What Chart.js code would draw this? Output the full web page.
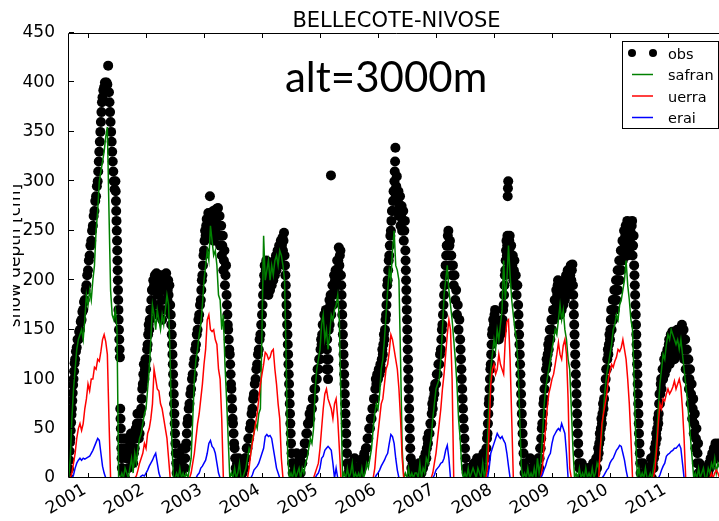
<!DOCTYPE html>
<html>
<head>
<meta charset="utf-8">
<script src="https://cdn.jsdelivr.net/npm/chart.js@4.4.1/dist/chart.umd.min.js"></script>
<style>
    html, body { margin: 0; padding: 0; background: #fff; overflow: hidden; }
    #wrap { width: 719px; height: 521px; overflow: hidden; }
</style>
</head>
<body>
<div id="wrap"><canvas id="chart" width="729" height="521"></canvas></div>
<script>
const title = 'BELLECOTE-NIVOSE';
const altitudeNote = 'alt=3000m';
const yTitle = 'snow depth [cm]';
const years = [2001, 2002, 2003, 2004, 2005, 2006, 2007, 2008, 2009, 2010, 2011];
const depthTicks = [0, 50, 100, 150, 200, 250, 300, 350, 400, 450];
const xMin = 2000.672;
const xMax = 2011.966;

// one row per snow season, 1 Sept -> 31 Aug, one window per ~10 days (36 per row)
const seasonStart = 2000 + 8 / 12;
const windowsPerYear = 36;

// obs: the readings that fall inside each 10-day window
const obsRows = [
    [[0,9,18,27,36],[40,48,56,64],[70,78,86,94],[100,108,116],[120,128],[132,140],
     [140,148],[150,158],[160,168],[170,178],[180,190],[195,205],
     [210,220],[225,235],[240,250],[255,265],[270,280],[285,295],
     [300,310,320],[330,340,350],[360,370,380],[385,392],[395,400],[392,400],
     [398,417],[390,380,370],[360,350,340],[330,320,310],[300,292],[300,290,280,270,260,250],
     [240,230,220,210,200,190,180,170],[160,150,140,130,122],[70,60,50,40,30,20],[10,25],[5,40,30],[0,20]],
    [[40,30,20],[10,20,30],[25,35,45],[40,30,20],[15,25],[30,40,50],
     [45,55,65],[50,40],[45,55,65],[70,80,90],[95,105,115],[100,110,120],
     [110,120,130],[135,145,155],[150,160,170],[170,180,190],[190,200],[195,205],
     [200,207],[165,175,185,195,205],[190,200],[195,205],[160,170,180,190,200],[195,205],
     [200,207],[170,180,190,200],[185,195],[175,165,155],[145,135,125,115,105],[95,85,75,65,55],
     [45,35,25,15],[5,15],[10,25],[15,5],[10,20,30],[20,10]],
    [[10,20,30],[35,45,55],[60,70],[75,85],[90,100],[105,115],
     [120,130],[135,145],[150,160],[165,175],[180,190,200],[205,215,225],
     [230,240,250],[245,255,262],[250,260,268],[255,265,285],[245,255,262],[250,260,270],
     [240,250,262],[250,260,272],[255,265,273],[245,255,265],[235,245,255],[225,235,245],
     [210,220,230],[195,205,215],[185,175,165,155],[150,140,130],[125,115,105,95],[90,80,70,60],
     [55,45,35],[30,20,10],[5,15],[10,20],[5],[0,10]],
    [[5,15],[10,20],[20,30],[30,40],[40,50],[55,65],
     [70,80],[85,95],[100,110],[115,125],[130,140],[145,155],
     [165,175,185],[195,205,215],[200,210,220],[190,200,210],[185,195,205],[190,200,210],
     [195,205,215],[200,210,220],[205,215,225],[210,220,230],[215,225,235],[220,230,240],
     [225,235,243],[230,240,248],[225,215,205,195],[185,175,165,155,145],[135,125,115,105,95],[85,75,65,55,45],
     [35,25,15],[5,15],[0,10],[10,25],[15],[5,20]],
    [[5,15],[15,25],[25,35],[35,45],[45,55],[55,65],
     [60,70],[70,80],[80,90],[90,100],[100,110],[110,120],
     [120,130,140],[135,145,155],[145,155,165],[150,160,170],[110,120,130,140,150,160,170],[100,110,120,150,160,170,180],
     [155,165,175,185,306],[165,175,185,195],[175,185,195,205],[190,200,210],[200,210,220],[210,220,233],
     [215,225,230],[205,195,185,175,165],[155,145,135,125,115],[105,95,85,75,65],[55,45,35,25],[15,5],
     [10],[0,15],[10],[5,20],[0],[10]],
    [[0,10],[5,15],[10,20],[15,25],[20,30],[30,40],
     [40,50],[50,60],[60,70],[70,80],[80,90,100],[95,105],
     [100,110],[105,115],[110,120,130],[125,135,145],[140,150,160],[165,175,185,195],
     [200,210,220],[225,235,245],[250,260,270],[270,280,290],[290,300,310,320,334],[285,295,305],
     [270,280,290],[265,275,285],[255,265,275],[250,260,270],[240,250,260],[230,220,210,200,190,180,170],
     [160,150,140,130,120,110,100],[90,80,70,60,50,40],[30,20,10],[5,15],[0,10],[5]],
    [[0,10],[5,15],[0,10],[5,15],[10,20],[15,25],
     [20,30,40],[35,45],[45,55],[55,65,75],[70,80,90],[85,95],
     [95,105],[105,115],[115,125],[130,140,150],[155,165,175],[185,195,205],
     [215,225,235],[235,245,250],[225,235,240],[215,225],[205,215],[195,205],
     [180,190],[165,175],[150,160],[140,130,120,110],[100,90,80,70],[60,50,40],
     [30,20,10],[5],[0,10],[10],[5],[0,15]],
    [[0,10],[5,20],[0,15],[5,20],[0,10],[5,25],
     [10,20],[20,30,40],[45,55,65,75],[80,90,100,110],[115,125,135,145],[150,160],
     [155,165,170],[150,160],[145,155],[140,150],[145,155],[150,160,170],
     [175,185,195,205],[210,220,230,240],[225,235,245,285,293,300],[220,230,240,245],[215,225,235],[205,215,225],
     [200,210,220],[195,205],[185,195],[175,165,155,145,135],[125,115,105,95,85],[75,65,55,45],
     [35,25,15],[5],[10],[0],[5,20],[10]],
    [[0,10],[5,15],[0,10],[5,20],[10,20,30],[30,40,50],
     [55,65,75],[80,90,100],[100,110,120],[115,125,135],[130,140,150],[140,150,160],
     [150,160,170],[160,170,180],[170,180,190],[175,185,195,200],[170,180,190,195],[165,175,185,190],
     [170,180,190,195],[175,185,195,200],[180,190,200,205],[185,195,205,210],[190,200,210],[195,205,215],
     [200,210,216],[195,185,175,165,155],[145,135,125,115,105],[95,85,75,65,55],[45,35,25,15],[10],
     [0,15],[10],[0],[5],[0,10],[5]],
    [[0,10],[5,15],[0,10],[5,20],[10,20,30],[25,35,45],
     [40,50,60],[55,65,75],[70,80,90],[90,100,110],[110,120,130],[125,135,145],
     [140,150,160,170],[150,160,170,180],[160,170,180,190],[170,180,190,200],[180,190,200,210],[190,200,210,220],
     [200,210,220,230],[210,220,230,240],[220,230,240,250],[225,235,245,255],[230,240,250,260],[225,235,245],
     [230,240,250],[235,245,255,260],[225,235,245],[215,205,195,185,175],[165,155,145,135,125,115],[105,95,85,75,65,55],
     [45,35,25,15],[5],[0,15],[5],[0],[10]],
    [[0,10],[5,20],[0,15],[10,20,30],[25,35,45],[40,50,60],
     [55,65,75,85],[75,85,95,100],[90,100,110],[100,110,120],[105,115,125],[110,120,130],
     [115,125,135,140],[115,125,135,145],[120,130,140,148],[120,130,140],[120,130,140,148],[125,135,145,150],
     [125,135,145,150],[130,140,150],[135,145,155],[130,140,150],[120,130,140],[110,120,130],
     [100,110,120],[90,100,110],[75,85,95],[60,70,80],[45,55,65],[30,40,50],
     [15,25,35],[5,15],[0,10],[5],[0,10],[5]],
    [[0,10],[5,15],[10,20],[15,25],[20,30],[25,35],[20,30],[25,35],[30]]
];

const safranRows = [
    [0,20,60,90,110,130,140,145,150,140,160,185,175,190,180,200,215,250,270,300,310,320,330,345,355,270,190,165,160,170,150,0,0,5,0,10],
    [5,0,10,20,5,25,15,30,40,45,55,65,70,90,110,140,175,165,150,170,160,150,165,155,170,185,175,120,40,0,0,5,0,10,0,5],
    [0,5,0,10,20,60,100,120,130,145,155,175,200,215,230,220,255,240,225,230,215,185,180,150,165,115,80,40,0,5,0,10,0,5,15,0],
    [0,5,10,20,30,25,40,45,55,50,65,70,150,245,200,210,220,200,215,205,220,225,215,230,225,215,200,120,20,0,5,0,10,0,5,10],
    [0,10,5,15,20,30,40,35,50,90,110,120,130,155,165,140,150,130,145,165,160,170,175,185,160,80,0,5,0,10,0,5,15,0,5,0],
    [5,0,10,0,5,15,10,20,30,50,65,75,70,85,110,120,140,165,190,210,200,230,250,215,210,200,120,30,0,5,0,10,0,5,0,5],
    [5,0,15,0,10,5,20,15,30,40,60,75,90,95,100,120,150,185,200,215,190,175,160,140,120,95,60,40,10,0,5,0,10,0,5,10],
    [5,0,10,5,0,15,0,10,40,80,110,125,140,130,150,140,155,170,220,180,200,235,205,180,165,150,140,110,60,10,0,5,0,10,0,5],
    [0,10,0,20,5,15,40,70,90,100,110,120,130,140,150,145,160,175,160,170,150,140,120,110,70,30,0,5,0,10,0,5,0,10,0,5],
    [0,10,0,5,15,10,25,45,70,90,105,115,125,135,150,155,165,160,175,180,190,200,220,195,180,160,150,100,40,0,10,0,5,0,10,0],
    [0,5,0,10,20,40,70,95,110,125,120,135,145,140,150,145,140,135,140,130,140,125,110,95,80,60,40,20,0,5,0,10,0,5,10,0],
    [0,10,5,15,10,20,5,15,10]
];

const uerraRows = [
    [0,0,5,15,25,40,50,55,48,55,70,80,95,88,100,100,112,110,120,118,128,140,145,138,125,60,0,0,0,0,0,0,0,0,0,0],
    [0,0,0,0,0,0,2,8,15,20,25,35,30,45,50,60,75,110,100,90,88,75,70,60,50,40,20,0,0,0,0,0,0,0,0,0],
    [0,0,0,0,5,15,25,40,55,65,80,95,115,130,160,165,150,148,150,140,135,110,100,60,0,0,0,0,0,0,0,0,0,0,0,0],
    [0,0,0,0,10,25,35,45,55,65,80,95,105,115,127,125,120,122,128,130,110,95,75,60,20,0,0,0,0,0,0,0,0,0,0,0],
    [0,0,0,0,0,0,0,0,0,5,10,15,30,50,70,85,90,80,75,70,60,75,80,60,30,0,0,0,0,0,0,0,0,0,0,0],
    [0,0,0,0,0,0,0,0,0,0,10,30,45,60,75,80,95,110,115,128,145,140,130,120,110,90,60,20,0,0,0,0,0,0,0,0],
    [0,0,0,0,0,0,0,0,0,0,5,15,25,40,55,70,90,105,125,145,160,150,100,0,0,0,0,0,0,0,0,0,0,0,0,0],
    [0,0,0,0,0,0,0,0,10,50,95,110,115,105,110,125,115,110,105,140,158,160,120,60,0,0,0,0,0,0,0,0,0,0,0,0],
    [0,0,0,0,0,0,10,30,50,70,85,92,100,105,115,125,137,125,120,134,140,125,80,10,0,0,0,0,0,0,0,0,0,0,0,0],
    [0,0,0,0,0,0,30,55,65,75,85,100,108,115,112,118,122,130,128,132,140,130,120,100,75,40,0,0,0,0,0,0,0,0,0,0],
    [0,0,0,0,10,30,55,75,70,80,78,85,90,85,88,92,98,90,95,100,92,70,40,0,0,0,0,0,0,0,0,0,0,0,0,0],
    [0,0,0,5,0,5,8,5,0]
];

const eraiRows = [
    [0,0,0,3,10,15,18,20,18,20,19,20,21,22,25,28,32,36,40,38,25,12,5,0,0,0,0,0,0,0,0,0,0,0,0,0],
    [0,0,0,0,0,0,0,0,0,2,3,2,5,8,12,15,18,22,25,15,5,0,0,0,0,0,0,0,0,0,0,0,0,0,0,0],
    [0,0,0,0,0,0,0,0,3,5,10,12,15,18,25,35,38,32,30,25,15,5,0,0,0,0,0,0,0,0,0,0,0,0,0,0],
    [0,0,0,0,0,0,3,8,10,12,15,20,25,30,42,44,42,43,40,30,20,10,5,0,0,0,0,0,0,0,0,0,0,0,0,0],
    [0,0,0,0,0,0,0,0,0,0,3,5,10,20,22,28,30,32,30,28,15,0,10,0,0,0,0,0,0,0,0,0,0,0,0,0],
    [0,0,0,0,0,0,0,0,0,0,0,3,5,8,12,15,18,22,25,35,44,42,35,20,8,0,0,0,0,0,0,0,0,0,0,0],
    [0,0,0,0,0,0,0,0,0,0,0,3,8,10,12,15,16,20,28,33,20,0,0,0,0,0,0,0,0,0,0,0,0,0,0,0],
    [0,0,0,0,0,0,0,0,0,10,25,30,35,40,45,42,40,42,38,35,25,12,0,0,0,0,0,0,0,0,0,0,0,0,0,0],
    [0,0,0,0,0,0,3,8,12,18,22,25,35,42,45,48,50,48,55,50,45,25,0,0,0,0,0,0,0,0,0,0,0,0,0,0],
    [0,0,0,0,0,0,0,0,2,5,8,10,15,18,20,24,28,30,33,32,25,18,8,0,0,0,0,0,0,0,0,0,0,0,0,0],
    [0,0,0,0,0,0,0,3,8,12,15,22,24,25,27,28,30,30,32,34,30,15,0,0,0,0,0,0,0,0,0,0,0,0,0,0],
    [0,0,0,0,0,0,0,0,0]
];

function linePoints(rows) {
    const pts = [];
    rows.forEach((row, r) => row.forEach((v, j) => {
        pts.push({ x: seasonStart + r + j / windowsPerYear, y: v });
    }));
    return pts;
}

function dotPoints(rows) {
    const pts = [];
    rows.forEach((row, r) => row.forEach((w, j) => w.forEach((v, k) => {
        pts.push({ x: seasonStart + r + (j + k / w.length) / windowsPerYear, y: v });
    })));
    return pts;
}

// axes frame with inward ticks, title, side texts
const decor = {
    id: 'decor',
    afterDatasetsDraw(chart) {
        const { ctx, chartArea: a, scales } = chart;
        ctx.save();
        ctx.strokeStyle = '#000';
        ctx.lineWidth = 1;
        ctx.beginPath();
        ctx.moveTo(a.left - 0.5, a.bottom - 0.5);
        ctx.lineTo(a.left - 0.5, a.top + 0.5);
        ctx.lineTo(a.right, a.top + 0.5);
        ctx.moveTo(a.left - 0.5, a.bottom - 0.5);
        ctx.lineTo(a.right, a.bottom - 0.5);
        depthTicks.forEach(v => {
            const py = Math.round(scales.y.getPixelForValue(v)) - 0.5;
            ctx.moveTo(a.left, py);
            ctx.lineTo(a.left + 5, py);
        });
        years.forEach(v => {
            const px = Math.round(scales.x.getPixelForValue(v)) + 0.5;
            ctx.moveTo(px, a.top);
            ctx.lineTo(px, a.top + 5);
            ctx.moveTo(px, a.bottom);
            ctx.lineTo(px, a.bottom - 5);
        });
        ctx.stroke();

        ctx.fillStyle = '#000';
        ctx.textAlign = 'center';
        ctx.textBaseline = 'alphabetic';
        ctx.font = '21px "DejaVu Sans"';
        ctx.fillText(title, (a.left + a.right) / 2, 27);

        ctx.textAlign = 'left';
        ctx.font = '42px Lato';
        ctx.fillText(altitudeNote, 285, 92);

        ctx.beginPath();
        ctx.rect(13, 0, chart.width, chart.height);
        ctx.clip();
        ctx.translate(19.5, (a.top + a.bottom) / 2);
        ctx.rotate(-Math.PI / 2);
        ctx.textAlign = 'center';
        ctx.font = '17px "DejaVu Sans"';
        ctx.fillText(yTitle, 0, 0);
        ctx.restore();
    }
};

const boxLegend = {
    id: 'boxLegend',
    afterDatasetsDraw(chart) {
        const { ctx, chartArea: a } = chart;
        const left = a.right - 102, top = a.top + 8;
        ctx.save();
        ctx.fillStyle = '#fff';
        ctx.fillRect(left, top, 96, 87);
        ctx.strokeStyle = '#000';
        ctx.lineWidth = 1;
        ctx.strokeRect(left + 0.5, top + 0.5, 96, 87);
        ctx.font = '14.5px "DejaVu Sans"';
        ctx.textAlign = 'left';
        ctx.textBaseline = 'alphabetic';
        chart.data.datasets.forEach((ds, i) => {
            const cy = top + 12 + i * 21.5;
            if (!ds.showLine) {
                ctx.fillStyle = ds.pointBackgroundColor;
                [left + 10, left + 31].forEach(cx => {
                    ctx.beginPath();
                    ctx.arc(cx, cy, 4, 0, Math.PI * 2);
                    ctx.fill();
                });
            } else {
                ctx.strokeStyle = ds.borderColor;
                ctx.lineWidth = 1.5;
                ctx.beginPath();
                ctx.moveTo(left + 10, cy);
                ctx.lineTo(left + 31, cy);
                ctx.stroke();
            }
            ctx.fillStyle = '#000';
            ctx.fillText(ds.label, left + 46, cy + 5.5);
        });
        ctx.restore();
    }
};

Chart.defaults.font.family = '"DejaVu Sans"';
Chart.defaults.color = '#000';

const lineStyle = (label, color, order) => ({
    label: label,
    showLine: true,
    borderColor: color,
    borderWidth: 1.5,
    pointRadius: 0,
    fill: false,
    tension: 0,
    clip: 0,
    order: order
});

new Chart(document.getElementById('chart').getContext('2d'), {
    type: 'scatter',
    data: {
        datasets: [
            {
                label: 'obs',
                data: dotPoints(obsRows),
                showLine: false,
                pointRadius: 5,
                pointBorderWidth: 0,
                pointBackgroundColor: '#000000',
                pointBorderColor: '#000000',
                clip: 0,
                order: 4
            },
            { ...lineStyle('safran', '#008000', 3), data: linePoints(safranRows) },
            { ...lineStyle('uerra', '#ff0000', 2), data: linePoints(uerraRows) },
            { ...lineStyle('erai', '#0000ff', 1), data: linePoints(eraiRows) }
        ]
    },
    options: {
        responsive: false,
        animation: false,
        events: [],
        layout: { padding: { top: 33, left: 0, right: 0, bottom: 0 } },
        plugins: {
            legend: { display: false },
            tooltip: { enabled: false }
        },
        scales: {
            x: {
                type: 'linear',
                min: xMin,
                max: xMax,
                grid: { display: false },
                border: { display: false },
                afterBuildTicks: s => { s.ticks = years.map(v => ({ value: v })); },
                afterFit: s => { s.height = 43; },
                ticks: {
                    autoSkip: false,
                    minRotation: 30,
                    maxRotation: 30,
                    padding: -6,
                    labelOffset: -3,
                    font: { size: 17 },
                    callback: v => String(v)
                }
            },
            y: {
                min: 0,
                max: 450,
                grid: { display: false },
                border: { display: false },
                afterBuildTicks: s => { s.ticks = depthTicks.map(v => ({ value: v })); },
                afterFit: s => { s.width = 69; },
                ticks: {
                    padding: 6,
                    font: { size: 17 },
                    callback: v => String(v)
                }
            }
        }
    },
    plugins: [decor, boxLegend]
});
</script>
</body>
</html>
